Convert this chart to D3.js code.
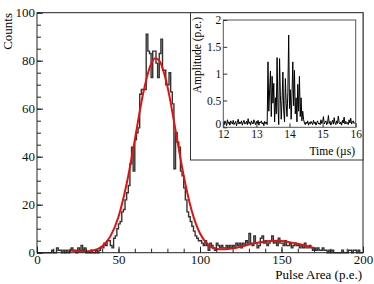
<!DOCTYPE html>
<html>
<head>
<meta charset="utf-8">
<script src="https://cdn.jsdelivr.net/npm/d3@7"></script>
<style>
  body { margin: 0; background: #fff; }
  svg { display: block; font-family: "Liberation Serif", serif; }
</style>
</head>
<body>
<svg id="chart" width="374" height="284"></svg>
<script>
// pulse area histogram, 1 p.e. bins starting at 0
const binStart = 0
const binWidth = 1
const counts = [
  0,0,0,0,0,0,0,0,0,1, 0,0,2,1,1,0,1,0,1,0,
  1,2,1,1,0,2,1,3,1,2, 0,0,0,1,0,0,1,0,1,2,
  2,4,3,5,5,3,2,6,7,10, 12,13,17,18,22,25,28,37,44,34,
  47,50,52,66,68,68,68,91,84,83, 73,84,84,79,73,83,89,76,76,70,
  70,75,67,62,35,50,46,44,34,32, 27,22,17,15,13,11,9,7,6,5,
  5,4,3,5,3,1,4,3,2,1, 4,3,2,3,2,2,3,2,3,2,
  3,2,4,3,4,2,4,3,5,4, 8,4,3,7,4,2,3,6,7,4,
  5,3,4,5,7,4,5,3,6,4, 4,3,5,3,3,4,2,3,4,3,
  3,2,3,2,4,2,2,3,2,1, 2,1,2,1,1,2,1,1,0,1,
  0,1,0,0,0,0,0,1,0,0, 0,1,1,0,1,1,0,1,0,0
]

// fitted curve
const fitX = [20,25,30,35,40,45,50,55,60,65,70,72.5,75,80,85,90,95,100,105,110,115,120,125,130,135,140,145,150,155,160,165,170]
const fitY = [0.9,0.6,0.5,1.0,2.7,6.8,15,28.7,47,66,78.7,81,80,69.3,51,32,17.3,8,3.4,1.5,1.4,1.8,2.5,3.4,4.1,4.7,5.0,4.9,4.4,3.7,2.9,2.0]

const xTicks = [0, 50, 100, 150, 200]
const yTicks = [0, 20, 40, 60, 80, 100]

// inset: PMT trace, 0.025 us samples from 12 to 16 us
const traceStart = 12
const traceStep = 0.025
const amplitude = [
  0.10,0.05,0.12,0.08,0.03,0.14,0.07,0.10,0.04,0.12,0.09,0.06,0.13,0.05,0.08,0.11,0.03,0.09,0.15,0.06,
  0.10,0.07,0.12,0.04,0.09,0.13,0.06,0.08,0.11,0.05,0.16,0.07,0.10,0.04,0.12,0.08,0.06,0.14,0.09,0.05,
  0.11,0.07,0.13,0.04,0.10,0.08,0.12,0.06,0.09,0.03,0.11,0.07,0.10,0.05,
  1.22,0.30,0.70,1.05,0.20,0.95,0.45,0.82,0.10,0.55,0.25,1.30,0.40,0.05,1.28,0.60,0.15,0.50,1.03,0.30,
  0.10,0.91,0.45,0.20,0.65,1.72,0.35,0.70,0.15,0.60,1.22,0.40,1.06,0.25,0.55,0.10,0.80,0.30,0.95,0.20,
  0.55,0.12,0.30,
  0.15,0.08,0.05,0.10,0.07,0.12,0.04,0.09,0.06,0.11,0.08,0.05,0.13,0.07,0.10,0.04,0.09,0.12,0.06,0.08,
  0.05,0.14,0.07,0.10,0.20,0.06,0.09,0.12,0.05,0.08,0.22,0.07,0.11,0.04,0.09,0.13,0.06,0.18,0.08,0.05,
  0.12,0.07,0.21,0.09,0.06,0.10,0.04,0.13,0.08,0.19,0.06,0.11,0.07,0.09,0.05,0.14,0.08,0.17,0.06,0.10,
  0.12,0.07,0.09,0.08
]
const tTicks = [12, 13, 14, 15, 16]
const aTicks = [0, 0.5, 1, 1.5, 2]

const svg = d3.select("#chart")

// ---- main plot ----
const x = d3.scaleLinear().domain([0, 200]).range([37, 363])
const y = d3.scaleLinear().domain([0, 100]).range([252.7, 12.7])

// histogram outline
const steps = counts.map((c, i) => [binStart + i * binWidth, c])
steps.push([binStart + counts.length * binWidth, counts[counts.length - 1]])
const stepLine = d3.line()
  .x(d => x(d[0]))
  .y(d => y(d[1]))
  .curve(d3.curveStepAfter)

svg.append("path")
  .attr("d", stepLine(steps))
  .attr("fill", "none")
  .attr("stroke", "#333")
  .attr("stroke-width", 1.4)

// fit
const fitLine = d3.line()
  .x(d => x(d[0]))
  .y(d => y(d[1]))
  .curve(d3.curveMonotoneX)

svg.append("path")
  .attr("d", fitLine(fitX.map((v, i) => [v, fitY[i]])))
  .attr("fill", "none")
  .attr("stroke", "#e41010")
  .attr("stroke-width", 2)

// frame
svg.append("rect")
  .attr("x", x(0)).attr("y", y(100))
  .attr("width", x(200) - x(0)).attr("height", y(0) - y(100))
  .attr("fill", "none").attr("stroke", "#222").attr("stroke-width", 1)

function styleAxis(g) {
  g.select(".domain").remove()
  g.selectAll(".tick line").attr("stroke", "#222")
  g.selectAll("text").attr("fill", "#111").attr("font-size", 13).attr("font-family", "Liberation Serif")
}

// y axis (ticks point inward)
svg.append("g")
  .attr("transform", `translate(${x(0)},0)`)
  .call(d3.axisLeft(y).tickValues(d3.range(0, 101, 5)).tickSize(-4).tickFormat(""))
  .call(styleAxis)
svg.append("g")
  .attr("transform", `translate(${x(0)},0)`)
  .call(d3.axisLeft(y).tickValues(yTicks).tickSize(-6).tickPadding(2))
  .call(styleAxis)

// x axis
svg.append("g")
  .attr("transform", `translate(0,${y(0)})`)
  .call(d3.axisBottom(x).tickValues(d3.range(0, 201, 10)).tickSize(-4).tickFormat(""))
  .call(styleAxis)
svg.append("g")
  .attr("transform", `translate(0,${y(0)})`)
  .call(d3.axisBottom(x).tickValues(xTicks).tickSize(-6).tickPadding(2))
  .call(styleAxis)

svg.append("text")
  .attr("text-anchor", "end")
  .attr("x", 362).attr("y", 279)
  .attr("font-size", 13)
  .text("Pulse Area (p.e.)")

svg.append("text")
  .attr("text-anchor", "end")
  .attr("transform", "translate(12,13) rotate(-90)")
  .attr("font-size", 13)
  .text("Counts")

// ---- inset ----
svg.append("rect")
  .attr("x", 190.5).attr("y", 12.7)
  .attr("width", 363 - 190.5).attr("height", 160 - 12.7)
  .attr("fill", "#fff").attr("stroke", "#333").attr("stroke-width", 1)

const tx = d3.scaleLinear().domain([12, 16]).range([223.3, 355.7])
const ay = d3.scaleLinear().domain([0, 2]).range([127.3, 20])

const traceLine = d3.line()
  .x((d, i) => tx(traceStart + i * traceStep))
  .y(d => ay(d))

svg.append("path")
  .attr("d", traceLine(amplitude))
  .attr("fill", "none")
  .attr("stroke", "#000")
  .attr("stroke-width", 1)

svg.append("rect")
  .attr("x", tx(12)).attr("y", ay(2))
  .attr("width", tx(16) - tx(12)).attr("height", ay(0) - ay(2))
  .attr("fill", "none").attr("stroke", "#555").attr("stroke-width", 1)

function styleInset(g) {
  g.select(".domain").remove()
  g.selectAll(".tick line").attr("stroke", "#333")
  g.selectAll("text").attr("fill", "#111").attr("font-size", 11.5).attr("font-family", "Liberation Serif")
}

svg.append("g")
  .attr("transform", `translate(${tx(12)},0)`)
  .call(d3.axisLeft(ay).tickValues(aTicks).tickSize(-4).tickPadding(2).tickFormat(d => String(d)))
  .call(styleInset)
  .call(g => g.selectAll(".tick text").filter(d => d === 0).attr("dy", "0.05em"))
svg.append("g")
  .attr("transform", `translate(0,${ay(0)})`)
  .call(d3.axisBottom(tx).tickValues(tTicks).tickSize(-4).tickPadding(3).tickFormat(d => String(d)))
  .call(styleInset)

svg.append("text")
  .attr("text-anchor", "end")
  .attr("x", 355).attr("y", 155)
  .attr("font-size", 11.5)
  .text("Time (\u00b5s)")

svg.append("text")
  .attr("text-anchor", "end")
  .attr("transform", "translate(201,17) rotate(-90)")
  .attr("font-size", 11.5)
  .text("Amplitude (p.e.)")
</script>
</body>
</html>
